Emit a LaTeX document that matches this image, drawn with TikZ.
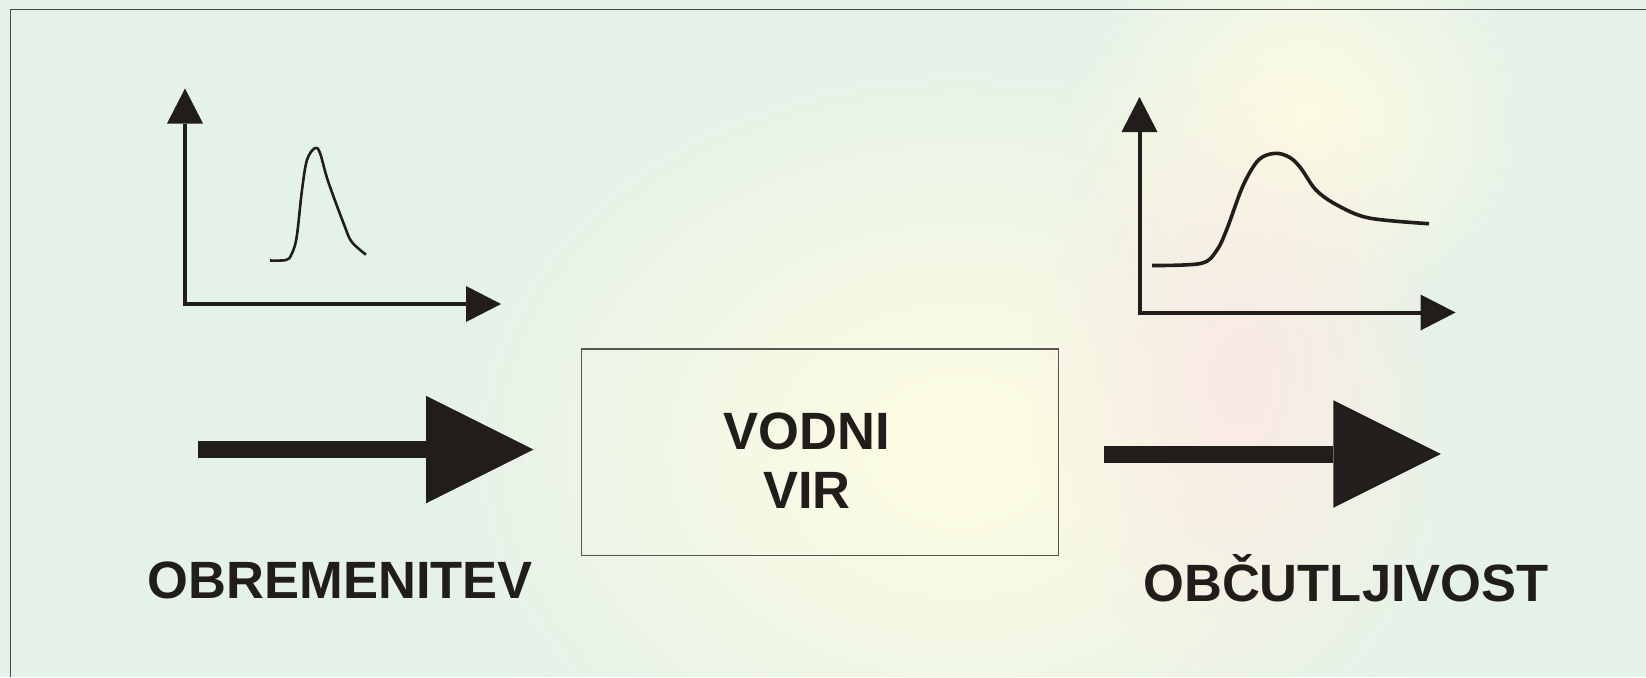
\documentclass[tikz,border=0pt]{standalone}
\usepackage{fontspec}
\setmainfont{Liberation Sans}
\usetikzlibrary{arrows.meta, calc, fadings}

\definecolor{bgmint}{RGB}{229,242,234}
\definecolor{bgyellow}{RGB}{255,253,226}
\definecolor{bgpink}{RGB}{250,234,228}
\definecolor{ink}{RGB}{33,29,27}

\tikzfading[name=softblob, inner color=transparent!0, outer color=transparent!100]

\begin{document}
\begin{tikzpicture}[
x=0.5pt, y=-0.5pt,
axis/.style = {ink, line width=2pt, line join=miter,
  {Triangle[length=17.5pt, width=18pt, line width=0pt]}-{Triangle[length=17.5pt, width=18pt, line width=0pt]}},
curve/.style = {ink, line width=1.5pt, line join=round},
flow/.style = {ink, line width=8.5pt, -{Triangle[length=53.75pt, width=53.75pt, line width=0pt]}},
word/.style = {ink, font=\fontsize{26.25}{29.5}\selectfont\bfseries, inner sep=0pt}
]

\useasboundingbox (0,0) rectangle (1646,677);

\fill[bgmint] (0,0) rectangle (1646,677);
\fill[bgyellow, path fading=softblob] (960,450) ellipse [x radius=540, y radius=420];
\fill[bgyellow, path fading=softblob] (1300,120) ellipse [x radius=240, y radius=220];
\fill[bgpink, path fading=softblob] (1240,380) ellipse [x radius=210, y radius=320];

\draw[ink!80, line width=0.7pt] (10.5,677) -- (10.5,9.5) -- (1646,9.5);

\coordinate (o1) at (185,304);
\coordinate (y1) at (185,88.5);
\coordinate (x1) at (501,304);
\draw[axis] (y1) -- (o1) -- (x1);
\draw[curve, line width=1.3pt] plot[smooth, tension=0.55] coordinates {(270,260.5) (286,260) (291.3,254.7) (296.6,237.5) (302,190) (307,159.8) (315,148) (320,153) (328,181) (344,224.5) (351.7,241.8) (366,254.7)};

\coordinate (o2) at (1139.5,312.5);
\coordinate (y2) at (1139.5,97);
\coordinate (x2) at (1455.5,312.5);
\draw[axis] (y2) -- (o2) -- (x2);
\draw[curve, line width=1.8pt] plot[smooth, tension=0.55] coordinates {(1152,265.5) (1201,263.4) (1216.7,250.4) (1227,228.8) (1243,185.7) (1258.7,159.8) (1275.5,153.3) (1290,157.6) (1301,168.4) (1316,190) (1337,205) (1369,218) (1429,223.7)};

\node (vir) at (820.2,452.3) [draw=ink!75, line width=0.6pt, minimum width=238.5pt, minimum height=103.4pt, inner sep=0pt] {};
\node (virtext) at (807,461) [word, align=center] {VODNI\\VIR};

\coordinate (in) at (198,449.5);
\coordinate (out) at (1440.8,454);
\draw[flow, shorten >=23.8pt] (in) -- (in -| vir.west);
\draw[flow, shorten <=22.5pt] (vir.east |- out) -- (out);

\node (load) at (340.5,598) [word, anchor=base] {OBREMENITEV};
\node (sens) at (1346,601) [word, anchor=base] {OBČUTLJIVOST};
\end{tikzpicture}
\end{document}
